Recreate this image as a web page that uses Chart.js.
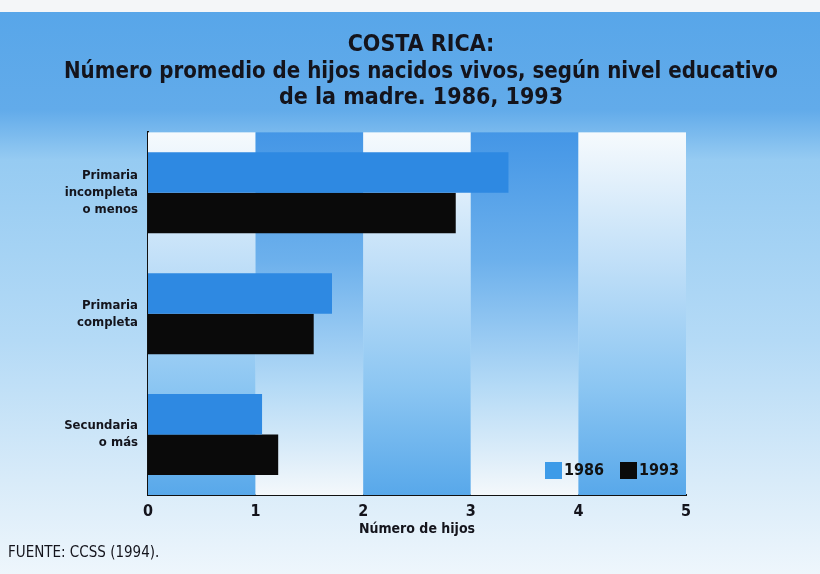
<!DOCTYPE html>
<html lang="es">
<head>
<meta charset="UTF-8">
<title>Costa Rica: hijos nacidos vivos</title>
<script src="https://cdn.jsdelivr.net/npm/chart.js"></script>
<style>
    html, body { margin: 0; padding: 0; }
    body {
        width: 820px;
        height: 574px;
        background: linear-gradient(#f4f6f8 0, #f4f6f8 12px, #58a6e9 12px, #62abea 110px,
                    #96cbf2 160px, #b4daf6 340px, #d8ebf9 480px, #eef6fc 574px);
    }
    #wrap { position: relative; width: 820px; height: 574px; }
    #fuente {
        position: absolute;
        left: 8px;
        top: 543px;
        font-family: 'DejaVu Sans', 'Liberation Sans', sans-serif;
        font-stretch: condensed;
        font-size: 15px;
        color: #14141c;
    }
</style>
</head>
<body>
<div id="wrap">
    <canvas id="grafico"></canvas>
    <div id="fuente">FUENTE: CCSS (1994).</div>
</div>

<script>
    // datos
    const categorias = [
        ['Primaria', 'incompleta', 'o menos'],
        ['Primaria', 'completa'],
        ['Secundaria', 'o más']
    ];
    const anios = ['1986', '1993'];
    const valores1986 = [3.35, 1.71, 1.06];
    const valores1993 = [2.86, 1.54, 1.21];
    const ticksX = [0, 1, 2, 3, 4, 5];

    const fuente = "'DejaVu Sans', 'Liberation Sans', sans-serif";
    const negrita = 'bold condensed';
    const azulBarra = '#2e89e2';
    const negro = '#0a0a0a';

    // franjas verticales con degradado (blanco/azul alternando)
    const franjas = {
        id: 'franjas',
        beforeDatasetsDraw(chart) {
            const { ctx, chartArea: a, scales: { x } } = chart;
            for (let i = 0; i < ticksX.length - 1; i++) {
                const x0 = x.getPixelForValue(ticksX[i]);
                const x1 = x.getPixelForValue(ticksX[i + 1]);
                const g = ctx.createLinearGradient(0, a.top, 0, a.bottom);
                if (i % 2 === 0) {
                    g.addColorStop(0, '#f6fafd');
                    g.addColorStop(0.35, '#c2e0f8');
                    g.addColorStop(0.7, '#8cc6f2');
                    g.addColorStop(1, '#58a8ea');
                } else {
                    g.addColorStop(0, '#4496e6');
                    g.addColorStop(0.35, '#6cb0ec');
                    g.addColorStop(0.7, '#b4daf6');
                    g.addColorStop(1, '#f4f8fb');
                }
                ctx.save();
                ctx.fillStyle = g;
                ctx.fillRect(x0, a.top, x1 - x0, a.bottom - a.top);
                ctx.restore();
            }
        }
    };

    // leyenda dentro del area del grafico, abajo a la derecha
    const leyenda = {
        id: 'leyenda',
        afterDatasetsDraw(chart) {
            const { ctx, chartArea: a } = chart;
            const items = [
                { txt: anios[0], color: '#3d9be8', dx: 141 },
                { txt: anios[1], color: negro, dx: 66 }
            ];
            ctx.save();
            ctx.font = negrita + ' 16px ' + fuente;
            ctx.textBaseline = 'middle';
            items.forEach(it => {
                const bx = a.right - it.dx;
                const by = a.bottom - 33;
                ctx.fillStyle = it.color;
                ctx.fillRect(bx, by, 17, 17);
                ctx.fillStyle = '#111';
                ctx.fillText(it.txt, bx + 19, by + 9);
            });
            ctx.restore();
        }
    };

    const ctx = document.getElementById('grafico').getContext('2d');

    new Chart(ctx, {
        type: 'bar',
        data: {
            labels: categorias,
            datasets: [{
                label: anios[0],
                data: valores1986,
                backgroundColor: azulBarra,
                categoryPercentage: 0.67,
                barPercentage: 1.0
            }, {
                label: anios[1],
                data: valores1993,
                backgroundColor: negro,
                categoryPercentage: 0.67,
                barPercentage: 1.0
            }]
        },
        options: {
            indexAxis: 'y',
            responsive: true,
            maintainAspectRatio: false,
            animation: false,
            layout: {
                padding: { left: 64, right: 42, top: 0, bottom: 34 }
            },
            plugins: {
                legend: { display: false },
                tooltip: { enabled: false },
                title: {
                    display: true,
                    text: [
                        'COSTA RICA:',
                        'Número promedio de hijos nacidos vivos, según nivel educativo',
                        'de la madre. 1986, 1993'
                    ],
                    color: '#14141c',
                    font: { family: fuente, size: 23, weight: negrita, lineHeight: 1.15 },
                    padding: { top: 32, bottom: 21 }
                }
            },
            scales: {
                x: {
                    min: 0,
                    max: 5,
                    afterBuildTicks(scale) {
                        scale.ticks = ticksX.map(v => ({ value: v }));
                    },
                    afterFit(scale) { scale.height = 45; },
                    grid: { display: false, drawTicks: false },
                    border: { display: true, color: '#111', width: 2 },
                    ticks: {
                        color: '#14141c',
                        padding: 7,
                        font: { family: fuente, size: 16, weight: negrita }
                    },
                    title: {
                        display: true,
                        text: 'Número de hijos',
                        color: '#14141c',
                        font: { family: fuente, size: 14, weight: negrita, lineHeight: 1.2 },
                        padding: { top: 0, bottom: 2 }
                    }
                },
                y: {
                    afterFit(scale) { scale.width = 84; },
                    grid: { display: false, drawTicks: false },
                    border: { display: true, color: '#111', width: 2 },
                    ticks: {
                        color: '#14141c',
                        padding: 10,
                        font: { family: fuente, size: 13, weight: negrita, lineHeight: 1.3 }
                    }
                },
                // eje vacio a la derecha: solo reserva el margen
                derecha: {
                    type: 'linear',
                    position: 'right',
                    afterFit(scale) { scale.width = 92; },
                    grid: { display: false, drawTicks: false },
                    border: { display: false },
                    ticks: { display: false }
                }
            }
        },
        plugins: [franjas, leyenda]
    });
</script>
</body>
</html>
